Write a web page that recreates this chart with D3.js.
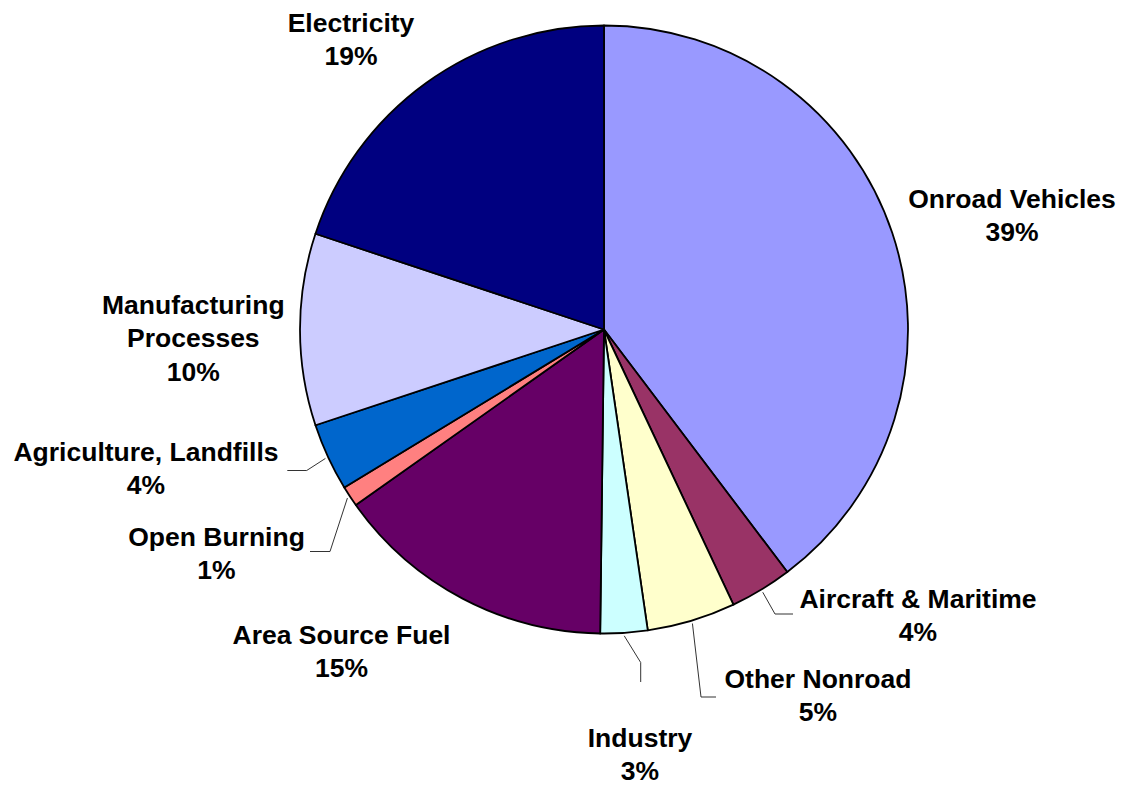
<!DOCTYPE html>
<html>
<head>
<meta charset="utf-8">
<script src="https://cdn.jsdelivr.net/npm/d3@7/dist/d3.min.js"></script>
<style>
  html, body { margin: 0; padding: 0; background: #fff; }
  svg { display: block; }
  text { font-family: "Liberation Sans", Arial, sans-serif; font-weight: bold; font-size: 26.5px; fill: #000; }
</style>
</head>
<body>
<svg id="chart" width="1122" height="789"></svg>
<script>
// ---- data ----
const categories = ["Onroad Vehicles", "Aircraft & Maritime", "Other Nonroad", "Industry",
  "Area Source Fuel", "Open Burning", "Agriculture, Landfills", "Manufacturing Processes", "Electricity"];
const values = [39.7, 3.3, 4.7, 2.5, 15.0, 1.1, 3.6, 10.2, 19.9];
const percentLabels = ["39%", "4%", "5%", "3%", "15%", "1%", "4%", "10%", "19%"];
const labelLines = [["Onroad Vehicles"], ["Aircraft & Maritime"], ["Other Nonroad"], ["Industry"],
  ["Area Source Fuel"], ["Open Burning"], ["Agriculture, Landfills"], ["Manufacturing", "Processes"], ["Electricity"]];
const colors = ["#9999FF", "#993366", "#FFFFCC", "#CCFFFF", "#660066", "#FF8080", "#0066CC", "#CCCCFF", "#000080"];

// ---- layout (label anchors relative to pie centre; leader elbow/end relative to centre) ----
const cx = 604, cy = 329.5, R = 304, lineH = 33.5;
const labelLayout = [
  { x: 408, y: -122, leader: null },
  { x: 314, y: 278, leader: [[171, 284.5], [189, 284.5]] },
  { x: 214, y: 358, leader: [[97, 367.5], [112, 367.5]] },
  { x: 36, y: 417, leader: [[36.7, 333], [36.7, 352.5]] },
  { x: -262.5, y: 314, leader: null },
  { x: -387.5, y: 216, leader: [[-274, 222], [-294, 222]] },
  { x: -458, y: 131, leader: [[-297.3, 141], [-316.7, 141]] },
  { x: -410.7, y: -16, leader: null },
  { x: -253, y: -297.8, leader: null }
];

const svg = d3.select("#chart");
const g = svg.append("g").attr("transform", `translate(${cx},${cy})`);

const pie = d3.pie().sort(null).value(d => d).startAngle(0).endAngle(2 * Math.PI);
const arcs = pie(values);
const arc = d3.arc().innerRadius(0).outerRadius(R);

g.selectAll("path.slice")
  .data(arcs)
  .enter().append("path")
  .attr("class", "slice")
  .attr("d", arc)
  .attr("fill", (d, i) => colors[i])
  .attr("stroke", "#000")
  .attr("stroke-width", 1.8)
  .attr("stroke-linejoin", "round");

// leader lines
arcs.forEach((a, i) => {
  const L = labelLayout[i];
  if (!L.leader) return;
  const mid = (a.startAngle + a.endAngle) / 2;
  const sx = Math.sin(mid) * (R + 3), sy = -Math.cos(mid) * (R + 3);
  const pts = [[sx, sy]].concat(L.leader);
  g.append("path")
    .attr("d", d3.line()(pts))
    .attr("fill", "none")
    .attr("stroke", "#333")
    .attr("stroke-width", 1);
});

// labels
arcs.forEach((a, i) => {
  const L = labelLayout[i];
  const lines = labelLines[i].concat([percentLabels[i]]);
  const t = g.append("text")
    .attr("text-anchor", "middle")
    .attr("x", L.x)
    .attr("y", L.y);
  lines.forEach((ln, k) => {
    t.append("tspan").attr("x", L.x).attr("dy", k === 0 ? 0 : lineH).text(ln);
  });
});
</script>
</body>
</html>
